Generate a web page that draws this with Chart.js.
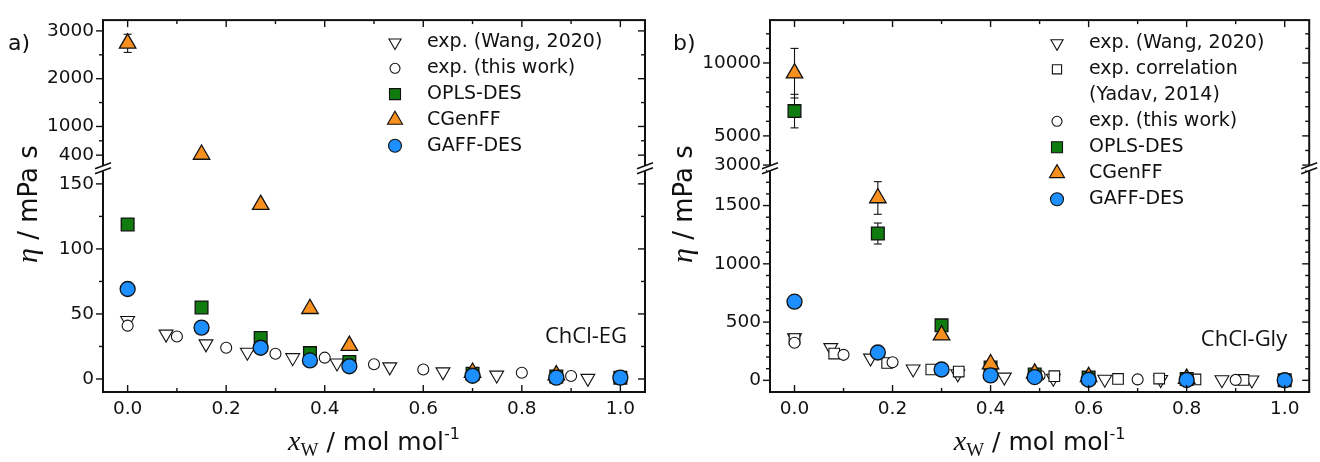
<!DOCTYPE html>
<html>
<head>
<meta charset="utf-8">
<script src="https://cdn.jsdelivr.net/npm/chart.js@4.4.1/dist/chart.umd.min.js"></script>
<style>
  html, body { margin: 0; padding: 0; background: #fff; }
  #wrap { display: flex; width: 1320px; height: 462px; }
  canvas { display: block; }
</style>
</head>
<body>
<div id="wrap">
  <canvas id="eg" width="660" height="462"></canvas>
  <canvas id="gly" width="660" height="462"></canvas>
</div>
<script>
// ---- shared x axis ----
const xTicks = [0, 0.2, 0.4, 0.6, 0.8, 1.0];
const xMinor = [0.1, 0.3, 0.5, 0.7, 0.9];

// ---- panel a) ChCl-EG ----
const egLowTicks = [0, 50, 100, 150];
const egLowMinor = [25, 75, 125];
const egHighTicks = [400, 1000, 2000, 3000];
const egHighMinor = [700, 1500, 2500];

const egWangX = [0.0, 0.078, 0.159, 0.243, 0.335, 0.425, 0.532, 0.64, 0.749, 0.934];
const egWangY = [45, 34.5, 27, 20.6, 16.4, 12.3, 9.3, 5.5, 3, 0.5];
const egThisX = [0.0, 0.1, 0.2, 0.3, 0.4, 0.5, 0.6, 0.7, 0.8, 0.9, 1.0];
const egThisY = [41, 32.7, 24, 19.4, 16.4, 11.3, 7.3, 3.5, 4.8, 2.3, 1];
const egOplsX = [0.0, 0.15, 0.27, 0.37, 0.45, 0.70, 0.87, 1.0];
const egOplsY = [118.8, 55, 31.5, 19.9, 13, 4, 2, 1];
const egCgenX = [0.0, 0.15, 0.27, 0.37, 0.45, 0.70, 0.87];
const egCgenY = [2740, 413, 134, 54, 25.7, 5, 3];
const egCgenErr = [190, 0, 0, 0, 0, 0, 0];
const egGaffX = [0.0, 0.15, 0.27, 0.37, 0.45, 0.70, 0.87, 1.0];
const egGaffY = [69.2, 39.5, 24, 14.3, 9.8, 2.5, 1, 1];

// ---- panel b) ChCl-Gly ----
const glyLowTicks = [0, 500, 1000, 1500];
const glyLowMinor = [100, 200, 300, 400, 600, 700, 800, 900, 1100, 1200, 1300, 1400, 1600, 1700, 1800];
const glyHighTicks = [3000, 5000, 10000];
const glyHighMinor = [4000, 6000, 7000, 8000, 9000, 11000, 12000];

const glyWangX = [0.0, 0.074, 0.155, 0.242, 0.333, 0.428, 0.528, 0.633, 0.747, 0.872, 0.933];
const glyWangY = [365, 281, 191, 98, 56, 28, 18, 10, 7, 5, 3];
const glyCorrX = [0.0, 0.081, 0.189, 0.279, 0.335, 0.53, 0.66, 0.744, 0.818, 0.916];
const glyCorrY = [355, 230, 149, 93, 75, 36, 12, 15, 8, 4];
const glyThisX = [0.0, 0.1, 0.2, 0.3, 0.4, 0.5, 0.6, 0.7, 0.8, 0.9, 1.0];
const glyThisY = [323, 219, 155, 95, 45, 42, 15, 8, 6, 4, 2];
const glyOplsX = [0.0, 0.17, 0.3, 0.4, 0.49, 0.6, 0.8, 1.0];
const glyOplsY = [6700, 1260, 472, 110, 50, 25, 12, 1];
const glyOplsErr = [1150, 90, 0, 0, 0, 0, 0, 0];
const glyCgenX = [0.0, 0.17, 0.3, 0.4, 0.49, 0.6, 0.8];
const glyCgenY = [9300, 1565, 388, 140, 60, 30, 15];
const glyCgenErr = [1700, 140, 0, 0, 0, 0, 0];
const glyGaffX = [0.0, 0.17, 0.3, 0.4, 0.49, 0.6, 0.8, 1.0];
const glyGaffY = [675, 239, 93, 42, 28, 5, 3, 1];

const INK = '#111';
const GREEN = '#107c10';
const ORANGE = '#f7901e';
const BLUE = '#1e8fff';
const SANS = "'DejaVu Sans', sans-serif";
const SERIF = "'Liberation Serif', 'DejaVu Serif', serif";

Chart.defaults.font.family = SANS;
Chart.defaults.color = INK;

const stWang = { pointStyle: 'triangle', pointRotation: 180, pointRadius: 8, pointBackgroundColor: '#fff', pointBorderColor: INK, pointBorderWidth: 1.1, order: 6 };
const stCorr = { pointStyle: 'rect', pointRadius: 7.5, pointBackgroundColor: '#fff', pointBorderColor: INK, pointBorderWidth: 1.1, order: 5 };
const stThis = { pointStyle: 'circle', pointRadius: 5.5, pointBackgroundColor: '#fff', pointBorderColor: INK, pointBorderWidth: 1.1, order: 4 };
const stOpls = { pointStyle: 'rect', pointRadius: 9, pointBackgroundColor: GREEN, pointBorderColor: INK, pointBorderWidth: 1.3, order: 3 };
const stCgen = { pointStyle: 'triangle', pointRadius: 9.5, pointBackgroundColor: ORANGE, pointBorderColor: INK, pointBorderWidth: 1.3, order: 2 };
const stGaff = { pointStyle: 'circle', pointRadius: 7.5, pointBackgroundColor: BLUE, pointBorderColor: INK, pointBorderWidth: 1.3, order: 1 };

// split one series onto the lower / upper part of the broken axis
function series(label, xs, ys, errs, style, cut) {
  const lo = [], hi = [];
  xs.forEach((x, i) => {
    const p = { x: x, y: ys[i], err: errs ? errs[i] : 0 };
    (ys[i] > cut ? hi : lo).push(p);
  });
  return [
    { label, data: lo, yAxisID: 'yLow', clip: false, ...style },
    { label, data: hi, yAxisID: 'yHigh', clip: false, ...style },
  ];
}

function marker(ctx, style, x, y, r, rot, fill, lw) {
  ctx.save();
  ctx.beginPath();
  if (style === 'circle') {
    ctx.arc(x, y, r, 0, Math.PI * 2);
  } else if (style === 'rect') {
    const s = r * Math.SQRT1_2;
    ctx.rect(x - s, y - s, 2 * s, 2 * s);
  } else {
    let a = (rot || 0) * Math.PI / 180;
    for (let k = 0; k < 3; k++) {
      const px = x + Math.sin(a) * r, py = y - Math.cos(a) * r;
      if (k) ctx.lineTo(px, py); else ctx.moveTo(px, py);
      a += 2 * Math.PI / 3;
    }
    ctx.closePath();
  }
  ctx.fillStyle = fill;
  ctx.fill();
  ctx.lineWidth = lw;
  ctx.strokeStyle = INK;
  ctx.stroke();
  ctx.restore();
}

function line(ctx, x1, y1, x2, y2) {
  ctx.beginPath();
  ctx.moveTo(x1, y1);
  ctx.lineTo(x2, y2);
  ctx.stroke();
}

function drawParts(ctx, parts, x, y) {
  let w = 0;
  parts.forEach(p => { ctx.font = p.f; w += ctx.measureText(p.t).width; });
  let cx = x - w / 2;
  parts.forEach(p => {
    ctx.font = p.f;
    ctx.fillText(p.t, cx, y + (p.dy || 0));
    cx += ctx.measureText(p.t).width;
  });
}

function makeDecor(cfg) {
  return {
    id: 'decor',
    beforeDatasetsDraw(chart) {
      const ctx = chart.ctx, xs = chart.scales.x;
      ctx.save();
      ctx.strokeStyle = INK;
      ctx.lineWidth = 1.1;
      chart.data.datasets.forEach(ds => {
        const ys = chart.scales[ds.yAxisID];
        ds.data.forEach(p => {
          if (!p.err) return;
          const x = xs.getPixelForValue(p.x);
          const a = ys.getPixelForValue(p.y + p.err), b = ys.getPixelForValue(p.y - p.err);
          line(ctx, x, a, x, b);
          line(ctx, x - 4, a, x + 4, a);
          line(ctx, x - 4, b, x + 4, b);
        });
      });
      ctx.restore();
    },
    afterDraw(chart) {
      const ctx = chart.ctx;
      const { left, right, top, bottom } = chart.chartArea;
      const xs = chart.scales.x, yl = chart.scales.yLow, yh = chart.scales.yHigh;
      const brk = yh.bottom;
      ctx.save();
      ctx.strokeStyle = INK;
      ctx.fillStyle = INK;

      // ticks
      ctx.lineWidth = 1.4;
      const xt = (vals, len) => vals.forEach(v => {
        const x = xs.getPixelForValue(v);
        line(ctx, x, bottom, x, bottom - len);
        line(ctx, x, top, x, top + len);
      });
      xt(xTicks, 7);
      xt(xMinor, 4);
      const yt = (scale, vals, len) => vals.forEach(v => {
        const y = scale.getPixelForValue(v);
        if (y < scale.top - 0.5 || y > scale.bottom + 0.5) return;
        line(ctx, left, y, left - len, y);
        line(ctx, right, y, right - len, y);
      });
      yt(yl, cfg.lowTicks, 7);
      yt(yl, cfg.lowMinor, 4);
      yt(yh, cfg.highTicks, 7);
      yt(yh, cfg.highMinor, 4);

      // frame
      ctx.lineWidth = 2;
      ctx.strokeRect(left, top, right - left, bottom - top);

      // axis break
      [left, right].forEach(ax => {
        ctx.fillStyle = '#fff';
        ctx.fillRect(ax - 3, brk - 2.5, 6, 5);
        ctx.lineWidth = 1.6;
        line(ctx, ax - 8, brk + 0.5, ax + 8, brk - 5.5);
        line(ctx, ax - 8, brk + 5.5, ax + 8, brk - 0.5);
      });

      // legend
      ctx.fillStyle = INK;
      ctx.textBaseline = 'middle';
      ctx.textAlign = 'left';
      ctx.font = '19px ' + SANS;
      cfg.legend.forEach((it, i) => {
        const y = cfg.legY + i * cfg.legDy;
        if (it.st) marker(ctx, it.st.pointStyle, cfg.legX, y, it.r, it.st.pointRotation, it.st.pointBackgroundColor, 1.1);
        ctx.fillStyle = INK;
        ctx.fillText(it.text, cfg.legX + 32, y);
      });

      // panel tag and system label
      ctx.font = '22px ' + SANS;
      ctx.fillText(cfg.tag, cfg.tagX, 44);
      ctx.textBaseline = 'alphabetic';
      ctx.textAlign = 'right';
      ctx.font = "22px 'Open Sans', sans-serif";
      ctx.fillText(cfg.note, right - cfg.noteDx, cfg.noteY);

      // axis titles
      ctx.textAlign = 'left';
      drawParts(ctx, [
        { t: 'x', f: 'italic 28px ' + SERIF },
        { t: 'W', f: '19px ' + SERIF, dy: 6 },
        { t: ' / mol mol', f: '25px ' + SANS },
        { t: '-1', f: '16px ' + SANS, dy: -11 },
      ], (left + right) / 2, 450);

      ctx.translate(cfg.yTitleX, (top + bottom) / 2 - 2);
      ctx.rotate(-Math.PI / 2);
      drawParts(ctx, [
        { t: 'η', f: 'italic 30px ' + SERIF },
        { t: ' / mPa s', f: '26px ' + SANS },
      ], 0, 0);
      ctx.restore();
    },
  };
}

function yAxis(min, max, ticks, weight, width) {
  return {
    type: 'linear', position: 'left', stack: 'eta', stackWeight: weight,
    min: min, max: max,
    grid: { display: false, drawTicks: false }, border: { display: false },
    ticks: { autoSkip: false, padding: 9, color: INK, font: { size: 18.5 }, callback: v => String(v) },
    afterBuildTicks: s => { s.ticks = ticks.map(v => ({ value: v })); },
    afterFit: s => { s.width = width; },
  };
}

function makeChart(id, cfg) {
  return new Chart(document.getElementById(id), {
    type: 'scatter',
    data: { datasets: cfg.datasets },
    options: {
      responsive: false,
      animation: false,
      events: [],
      layout: { padding: cfg.padding },
      plugins: { legend: { display: false }, tooltip: { enabled: false } },
      scales: {
        x: {
          type: 'linear', min: -0.05, max: 1.05,
          grid: { display: false, drawTicks: false }, border: { display: false },
          ticks: { autoSkip: false, padding: 6, color: INK, font: { size: 18.5 }, callback: v => v.toFixed(1) },
          afterBuildTicks: s => { s.ticks = xTicks.map(v => ({ value: v })); },
          afterFit: s => { s.height = 50; },
        },
        yLow: yAxis(cfg.low[0], cfg.low[1], cfg.lowTicks, 228, cfg.axisW),
        yHigh: yAxis(cfg.high[0], cfg.high[1], cfg.highTicks, 151, cfg.axisW),
      },
    },
    plugins: [makeDecor(cfg)],
  });
}

const EG_CUT = 162;
makeChart('eg', {
  padding: { left: 33, right: 15, top: 13, bottom: 20 }, axisW: 70,
  low: [-10, EG_CUT], high: [125, 3226],
  lowTicks: egLowTicks, lowMinor: egLowMinor, highTicks: egHighTicks, highMinor: egHighMinor,
  datasets: [
    ...series('exp. (Wang, 2020)', egWangX, egWangY, null, stWang, EG_CUT),
    ...series('exp. (this work)', egThisX, egThisY, null, stThis, EG_CUT),
    ...series('OPLS-DES', egOplsX, egOplsY, null, stOpls, EG_CUT),
    ...series('CGenFF', egCgenX, egCgenY, egCgenErr, stCgen, EG_CUT),
    ...series('GAFF-DES', egGaffX, egGaffY, null, stGaff, EG_CUT),
  ],
  legend: [
    { text: 'exp. (Wang, 2020)', st: stWang, r: 7 },
    { text: 'exp. (this work)', st: stThis, r: 5 },
    { text: 'OPLS-DES', st: stOpls, r: 7.8 },
    { text: 'CGenFF', st: stCgen, r: 8.7 },
    { text: 'GAFF-DES', st: stGaff, r: 6.5 },
  ],
  legX: 395, legY: 42.5, legDy: 25.8,
  tag: 'a)', tagX: 8,
  note: 'ChCl-EG', noteDx: 18, noteY: 343,
  yTitleX: 37,
});

const GLY_CUT = 1820;
makeChart('gly', {
  padding: { left: 30, right: 5, top: 13, bottom: 20 }, axisW: 80,
  low: [-100, GLY_CUT], high: [2780, 12940],
  lowTicks: glyLowTicks, lowMinor: glyLowMinor, highTicks: glyHighTicks, highMinor: glyHighMinor,
  datasets: [
    ...series('exp. (Wang, 2020)', glyWangX, glyWangY, null, stWang, GLY_CUT),
    ...series('exp. correlation (Yadav, 2014)', glyCorrX, glyCorrY, null, stCorr, GLY_CUT),
    ...series('exp. (this work)', glyThisX, glyThisY, null, stThis, GLY_CUT),
    ...series('OPLS-DES', glyOplsX, glyOplsY, glyOplsErr, stOpls, GLY_CUT),
    ...series('CGenFF', glyCgenX, glyCgenY, glyCgenErr, stCgen, GLY_CUT),
    ...series('GAFF-DES', glyGaffX, glyGaffY, null, stGaff, GLY_CUT),
  ],
  legend: [
    { text: 'exp. (Wang, 2020)', st: stWang, r: 7 },
    { text: 'exp. correlation', st: stCorr, r: 6.5 },
    { text: '(Yadav, 2014)', st: null },
    { text: 'exp. (this work)', st: stThis, r: 5 },
    { text: 'OPLS-DES', st: stOpls, r: 7.8 },
    { text: 'CGenFF', st: stCgen, r: 8.7 },
    { text: 'GAFF-DES', st: stGaff, r: 6.5 },
  ],
  legX: 397, legY: 43.3, legDy: 26,
  tag: 'b)', tagX: 13,
  note: 'ChCl-Gly', noteDx: 22, noteY: 346,
  yTitleX: 32,
});
</script>
</body>
</html>
